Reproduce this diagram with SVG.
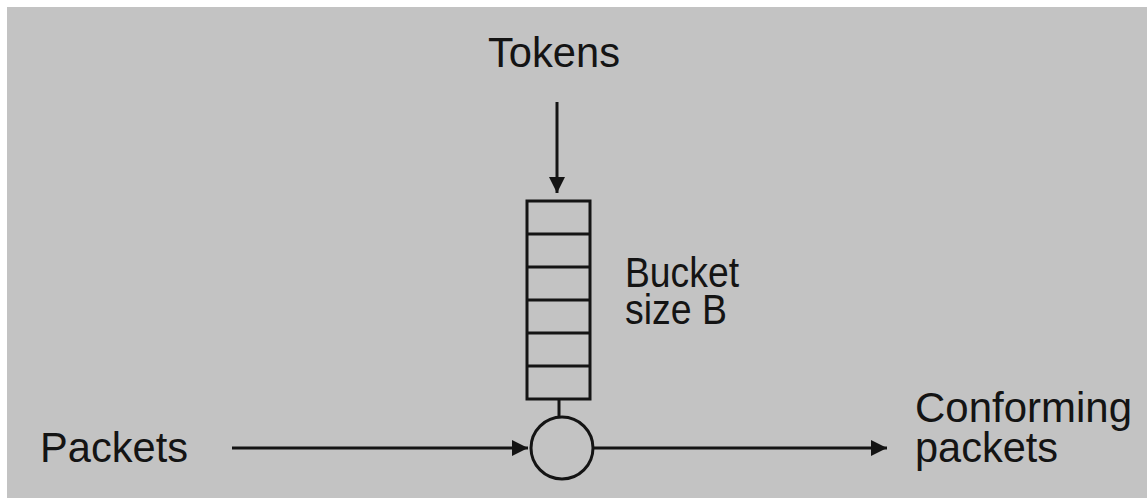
<svg xmlns="http://www.w3.org/2000/svg" width="1148" height="498" viewBox="0 0 1148 498">
  <style>
    .lbl { font-family: "Liberation Sans", Arial, Helvetica, sans-serif; font-size: 42px; fill: #141414; }
    .edge { stroke: #141414; stroke-width: 3; fill: none; }
    .shape { stroke: #141414; stroke-width: 3; fill: none; }
  </style>
  <defs>
    <marker id="arrow" viewBox="0 0 16 16" refX="16" refY="8" markerWidth="16" markerHeight="16" markerUnits="userSpaceOnUse" orient="auto">
      <path d="M0,0 L16,8 L0,16 Z" fill="#141414"/>
    </marker>
  </defs>

  <!-- canvas -->
  <rect x="0" y="0" width="1148" height="498" fill="#ffffff"/>
  <rect x="7" y="7" width="1140" height="491" fill="#c3c3c3"/>

  <!-- token source label -->
  <g id="tokens">
    <text class="lbl" x="488" y="67" font-size="44" textLength="132" lengthAdjust="spacingAndGlyphs">Tokens</text>
  </g>

  <!-- token bucket: six stacked slots -->
  <g id="bucket">
    <rect class="shape" x="527" y="201" width="63" height="198"/>
    <line class="shape" x1="527" y1="234" x2="590" y2="234"/>
    <line class="shape" x1="527" y1="267" x2="590" y2="267"/>
    <line class="shape" x1="527" y1="300" x2="590" y2="300"/>
    <line class="shape" x1="527" y1="333" x2="590" y2="333"/>
    <line class="shape" x1="527" y1="366" x2="590" y2="366"/>
    <text class="lbl" x="625" y="287" font-size="40" textLength="114" lengthAdjust="spacingAndGlyphs">Bucket</text>
    <text class="lbl" x="625" y="324" font-size="40" textLength="102" lengthAdjust="spacingAndGlyphs">size B</text>
  </g>

  <!-- gate where packets meet tokens -->
  <g id="gate">
    <line class="shape" x1="559" y1="399" x2="559" y2="417"/>
    <circle class="shape" cx="562" cy="448" r="31"/>
  </g>

  <g id="packets-in">
    <text class="lbl" x="40" y="462" textLength="148" lengthAdjust="spacingAndGlyphs">Packets</text>
  </g>

  <g id="packets-out">
    <text class="lbl" x="915" y="422" textLength="217" lengthAdjust="spacingAndGlyphs">Conforming</text>
    <text class="lbl" x="915" y="462" textLength="143" lengthAdjust="spacingAndGlyphs">packets</text>
  </g>

  <!-- connectors -->
  <g id="connectors">
    <line class="edge" x1="557" y1="102" x2="557" y2="193" marker-end="url(#arrow)"/>
    <line class="edge" x1="232" y1="448" x2="528" y2="448" marker-end="url(#arrow)"/>
    <line class="edge" x1="593" y1="448" x2="887" y2="448" marker-end="url(#arrow)"/>
  </g>
</svg>
